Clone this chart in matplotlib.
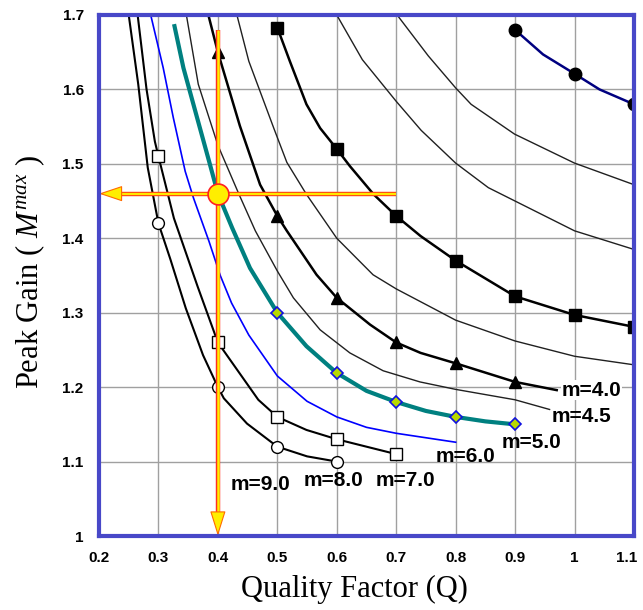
import matplotlib
matplotlib.use('Agg')
import matplotlib.pyplot as plt
from matplotlib.transforms import ScaledTranslation

plt.rcParams['mathtext.fontset'] = 'custom'
plt.rcParams['mathtext.rm'] = 'Liberation Serif'
plt.rcParams['mathtext.it'] = 'Liberation Serif:italic'

# peak gain curves, read per inductance ratio m
q_m9 = [0.25, 0.266, 0.282, 0.30, 0.32, 0.346, 0.375, 0.40, 0.41, 0.449, 0.50, 0.55, 0.60]
g_m9 = [1.70, 1.607, 1.495, 1.42, 1.372, 1.306, 1.243, 1.20, 1.185, 1.151, 1.12, 1.107, 1.10]

q_m8 = [0.265, 0.28, 0.294, 0.30, 0.326, 0.366, 0.40, 0.468, 0.50, 0.549, 0.60, 0.65, 0.70]
g_m8 = [1.70, 1.60, 1.53, 1.51, 1.427, 1.335, 1.26, 1.183, 1.16, 1.1425, 1.13, 1.12, 1.11]

q_m6 = [0.287, 0.308, 0.325, 0.345, 0.359, 0.385, 0.404, 0.423, 0.452, 0.50, 0.55, 0.60, 0.65, 0.70, 0.80]
g_m6 = [1.70, 1.629, 1.562, 1.49, 1.454, 1.396, 1.35, 1.313, 1.27, 1.215, 1.181, 1.16, 1.146, 1.138, 1.126]

q_m5 = [0.327, 0.342, 0.365, 0.385, 0.40, 0.424, 0.454, 0.50, 0.549, 0.60, 0.65, 0.70, 0.75, 0.80, 0.85, 0.90]
g_m5 = [1.685, 1.629, 1.562, 1.504, 1.46, 1.414, 1.36, 1.30, 1.255, 1.219, 1.195, 1.18, 1.168, 1.16, 1.154, 1.15]

q_m45 = [0.347, 0.367, 0.40, 0.435, 0.463, 0.50, 0.527, 0.572, 0.622, 0.678, 0.74, 0.80, 0.90, 0.958]
g_m45 = [1.70, 1.607, 1.525, 1.46, 1.41, 1.356, 1.32, 1.277, 1.246, 1.222, 1.207, 1.197, 1.183, 1.170]

q_m4 = [0.384, 0.40, 0.437, 0.471, 0.50, 0.516, 0.566, 0.60, 0.656, 0.70, 0.741, 0.80, 0.90, 0.97]
g_m4 = [1.70, 1.65, 1.551, 1.472, 1.43, 1.41, 1.351, 1.32, 1.284, 1.26, 1.246, 1.232, 1.207, 1.196]

q_a = [0.432, 0.452, 0.494, 0.516, 0.549, 0.60, 0.661, 0.70, 0.75, 0.80, 0.90, 1.0, 1.1]
g_a = [1.70, 1.638, 1.548, 1.502, 1.459, 1.40, 1.351, 1.332, 1.311, 1.29, 1.262, 1.2415, 1.23]

q_sq = [0.5, 0.521, 0.549, 0.572, 0.6, 0.622, 0.662, 0.7, 0.741, 0.8, 0.9, 1.0, 1.1]
g_sq = [1.683, 1.638, 1.58, 1.548, 1.52, 1.497, 1.459, 1.43, 1.403, 1.37, 1.322, 1.297, 1.281]

q_b = [0.60, 0.643, 0.70, 0.742, 0.80, 0.855, 0.90, 1.0, 1.1]
g_b = [1.70, 1.64, 1.584, 1.545, 1.501, 1.468, 1.45, 1.41, 1.385]

q_c = [0.7025, 0.754, 0.80, 0.826, 0.899, 1.0, 1.1]
g_c = [1.699, 1.645, 1.602, 1.58, 1.54, 1.501, 1.472]

q_top = [0.9, 0.947, 1.0, 1.042, 1.1]
g_top = [1.68, 1.647, 1.621, 1.60, 1.58]

# operating point picked off the m=5.0 curve
op_q = 0.4
op_gain = 1.46
op_q_end = 0.7
op_gain_top = 1.68

labels = ['m=4.0', 'm=4.5', 'm=5.0', 'm=6.0', 'm=7.0', 'm=8.0', 'm=9.0']
label_q = [1.029, 1.011, 0.928, 0.817, 0.716, 0.595, 0.471]
label_g = [1.196, 1.160, 1.126, 1.107, 1.074, 1.075, 1.069]

x_ticks = [0.2, 0.3, 0.4, 0.5, 0.6, 0.7, 0.8, 0.9, 1.0, 1.1]
x_ticklabels = ['0.2', '0.3', '0.4', '0.5', '0.6', '0.7', '0.8', '0.9', '1', '1.1']
y_ticks = [1.0, 1.1, 1.2, 1.3, 1.4, 1.5, 1.6, 1.7]
y_ticklabels = ['1', '1.1', '1.2', '1.3', '1.4', '1.5', '1.6', '1.7']

fig = plt.figure(figsize=(6.43, 6.10), dpi=100)
ax = fig.add_axes([99 / 643, 1 - 536 / 610, 535 / 643, 521 / 610])

ax.plot(q_m9, g_m9, color='black', lw=1.5, marker='o', ms=8.5, mfc='white', mec='black', mew=1.0,
        markevery=[3, 7, 10, 12])
ax.plot(q_m8, g_m8, color='black', lw=1.5, marker='s', ms=8.5, mfc='white', mec='black', mew=1.0,
        markevery=[3, 6, 8, 10, 12])
ax.plot(q_m6, g_m6, color='#0000ff', lw=1.2)
ax.plot(q_m5, g_m5, color='#008080', lw=3.0, marker='D', ms=6, mfc='#b8d800', mec='#1010e0', mew=1.2,
        markevery=[7, 9, 11, 13, 15])
ax.plot(q_m45, g_m45, color='#202020', lw=1.0)
ax.plot(q_m4, g_m4, color='black', lw=1.8, marker='^', ms=9, markevery=[1, 4, 7, 9, 11, 12])
ax.plot(q_a, g_a, color='#202020', lw=1.0)
ax.plot(q_sq, g_sq, color='black', lw=1.8, marker='s', ms=9, markevery=[0, 4, 7, 9, 10, 11, 12])
ax.plot(q_b, g_b, color='#202020', lw=1.0)
ax.plot(q_c, g_c, color='#202020', lw=1.0)
ax.plot(q_top, g_top, color='#000080', lw=1.8, marker='o', ms=9, mfc='black', mec='black',
        markevery=[0, 2, 4])

# vertical read-off line with arrow down to the Q axis
ax.plot([op_q, op_q], [op_gain_top, 1.03], color='#ff3020', lw=3.2, solid_capstyle='butt', zorder=5)
ax.plot([op_q, op_q], [op_gain_top, 1.03], color='#ffee00', lw=1.8, solid_capstyle='butt', zorder=6)
ax.annotate('', xy=(op_q, 1.0), xytext=(op_q, 1.031),
            arrowprops=dict(arrowstyle='-|>,head_length=1.6,head_width=0.5', fc='#ffee00',
                            ec='#ff6a00', lw=0.8, shrinkA=0, shrinkB=0), zorder=7)

# horizontal read-off line with arrow to the gain axis
ax.plot([op_q_end, 0.232], [op_gain, op_gain], color='#ff5010', lw=3.2, solid_capstyle='butt', zorder=5)
ax.plot([op_q_end, 0.232], [op_gain, op_gain], color='#ffee00', lw=1.4, solid_capstyle='butt', zorder=6)
ax.annotate('', xy=(0.2, op_gain), xytext=(0.234, op_gain),
            arrowprops=dict(arrowstyle='-|>,head_length=1.5,head_width=0.5', fc='#ffee00',
                            ec='#ff6a00', lw=0.8, shrinkA=0, shrinkB=0), zorder=7)
ax.plot(op_q, op_gain, 'o', ms=15, mfc='#ffee00', mec='#ff2020', mew=1.2, zorder=8)

for text, q, g in zip(labels, label_q, label_g):
    kw = {}
    if text == 'm=4.0':
        kw['bbox'] = dict(facecolor='white', edgecolor='none', pad=0.5)
    ax.text(q, g, text, ha='center', va='center', fontsize=15, fontweight='bold',
            family='Liberation Sans', zorder=9, **kw)

ax.set_xlim(0.2, 1.1)
ax.set_ylim(1.0, 1.7)
ax.set_xticks(x_ticks)
ax.set_xticklabels(x_ticklabels)
ax.set_yticks(y_ticks)
ax.set_yticklabels(y_ticklabels)
ax.tick_params(length=0, pad=11, labelsize=11)
for lbl in ax.get_xticklabels() + ax.get_yticklabels():
    lbl.set_fontweight('bold')
    lbl.set_family('Liberation Sans')

# keep the last Q label inside the figure
last = ax.get_xticklabels()[-1]
last.set_transform(last.get_transform() + ScaledTranslation(-5 / 72, 0, fig.dpi_scale_trans))

ax.grid(True, color='#a0a0a0', lw=1.0)
ax.set_axisbelow(True)
for sp in ax.spines.values():
    sp.set_color('#4848c8')
    sp.set_linewidth(3)
    sp.set_zorder(10)

fig.text(354 / 643, 1 - 589 / 610, 'Quality Factor (Q)', ha='center', va='center',
         fontsize=22, family='Liberation Serif')
fig.text(30 / 643, 1 - 272 / 610, 'Peak Gain ( $M^{max}$ )', ha='center', va='center',
         rotation=90, fontsize=22, family='Liberation Serif')

fig.savefig('out.png', dpi=100)
